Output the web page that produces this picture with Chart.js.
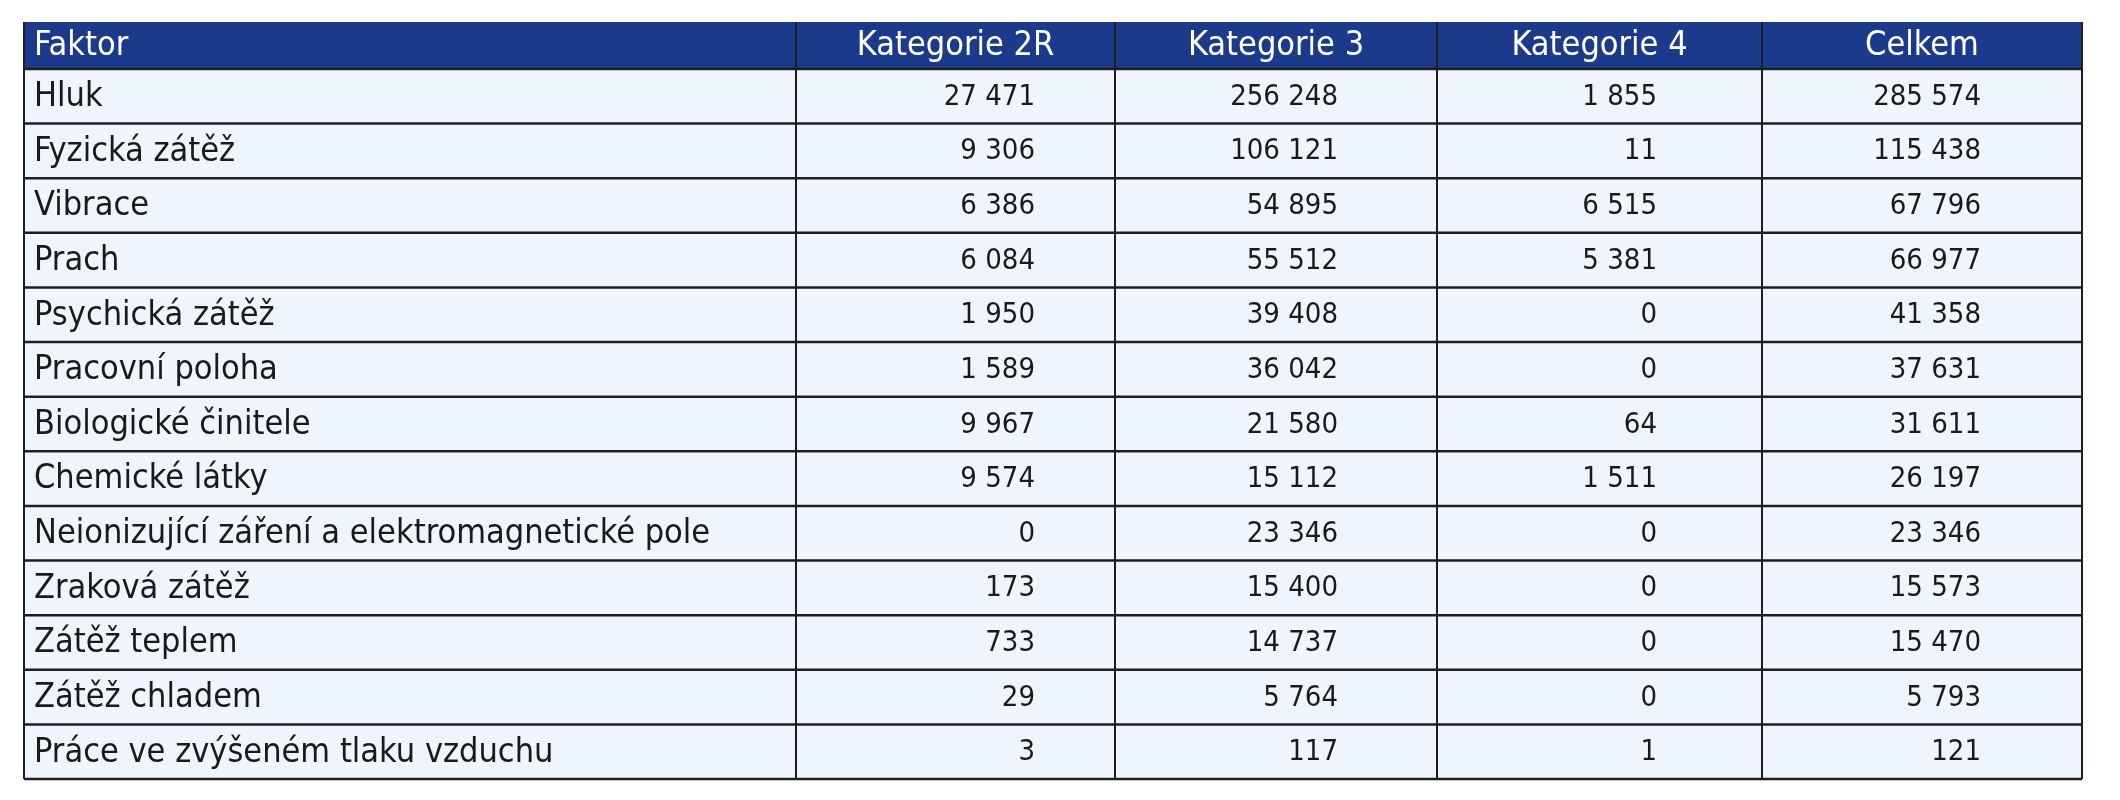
<!DOCTYPE html>
<html><head><meta charset="utf-8">
<script src="https://cdn.jsdelivr.net/npm/chart.js@4"></script>
<style>html,body{margin:0;padding:0;background:#fff}#wrap{width:2120px;height:800px}</style>
</head><body><div id="wrap"><canvas id="c" width="2120" height="800"></canvas></div>
<script>
const headers = ['Faktor','Kategorie 2R','Kategorie 3','Kategorie 4','Celkem'];
const factors = ['Hluk','Fyzická zátěž','Vibrace','Prach','Psychická zátěž','Pracovní poloha','Biologické činitele','Chemické látky','Neionizující záření a elektromagnetické pole','Zraková zátěž','Zátěž teplem','Zátěž chladem','Práce ve zvýšeném tlaku vzduchu'];
const kat2R = [27471,9306,6386,6084,1950,1589,9967,9574,0,173,733,29,3];
const kat3 = [256248,106121,54895,55512,39408,36042,21580,15112,23346,15400,14737,5764,117];
const kat4 = [1855,11,6515,5381,0,0,64,1511,0,0,0,0,1];
const celkem = [285574,115438,67796,66977,41358,37631,31611,26197,23346,15573,15470,5793,121];

// layout (not data)
const colEdges = [0,772,1091,1413,1738,2058];
const rightPad = [0,80,99,105,101];
const HEADER_H = 47;
const FONT = '"Liberation Sans Narrow","DejaVu Sans Condensed",sans-serif';
const fmt = v => String(v).replace(/\B(?=(\d{3})+(?!\d))/g,' ');
const cols = [null,kat2R,kat3,kat4,celkem];

const tablePlugin = {
  id:'table',
  afterDraw(chart){
    const ctx = chart.ctx, xs = chart.scales.x, ys = chart.scales.y;
    const band = Math.abs(ys.getPixelForValue(1)-ys.getPixelForValue(0));
    const X = i => xs.getPixelForValue(colEdges[i]);
    const rowsTop = ys.getPixelForValue(0)-band/2;
    const bot = ys.getPixelForValue(factors.length-1)+band/2;
    const hTop = rowsTop-HEADER_H;
    ctx.save();
    ctx.textBaseline='middle';
    // header
    ctx.fillStyle='#1c3a8c';
    ctx.fillRect(X(0),hTop,X(5)-X(0),HEADER_H);
    ctx.fillStyle='#ffffff';
    ctx.font='34px '+FONT;
    headers.forEach((h,c)=>{
      if(c===0){ctx.textAlign='left';ctx.fillText(h,X(0)+10,hTop+HEADER_H/2+1);}
      else {ctx.textAlign='center';ctx.fillText(h,(X(c)+X(c+1))/2,hTop+HEADER_H/2+1);}
    });
    // body
    factors.forEach((lab,r)=>{
      const cy = ys.getPixelForValue(r);
      ctx.fillStyle='#eef5fc';
      ctx.fillRect(X(0),cy-band/2,X(5)-X(0),band);
      ctx.fillStyle='#1a1a1a';
      ctx.font='34px '+FONT; ctx.textAlign='left';
      ctx.fillText(lab,X(0)+10,cy+1);
      ctx.font='29px '+FONT; ctx.textAlign='right';
      for(let c=1;c<5;c++) ctx.fillText(fmt(cols[c][r]),X(c+1)-rightPad[c],cy+1);
    });
    ctx.strokeStyle='#1e1e1e'; ctx.lineWidth=2.5;
    for(let r=0;r<=factors.length;r++){
      const y = r===factors.length ? bot : ys.getPixelForValue(r)-band/2;
      ctx.beginPath();ctx.moveTo(X(0),y);ctx.lineTo(X(5),y);ctx.stroke();
    }
    ctx.lineWidth=2;
    for(let c=0;c<=5;c++){
      ctx.beginPath();ctx.moveTo(X(c),hTop);ctx.lineTo(X(c),bot);ctx.stroke();
    }
    ctx.restore();
  }
};

new Chart(document.getElementById('c'),{
  type:'scatter',
  data:{labels:factors,datasets:[{data:[],pointRadius:0}]},
  options:{
    responsive:false,animation:false,events:[],
    layout:{padding:{left:24,right:38,top:69,bottom:21}},
    plugins:{legend:{display:false},tooltip:{enabled:false}},
    scales:{
      x:{type:'linear',min:colEdges[0],max:colEdges[5],display:false},
      y:{type:'category',labels:factors,offset:true,display:false}
    }
  },
  plugins:[tablePlugin]
});
</script></body></html>
